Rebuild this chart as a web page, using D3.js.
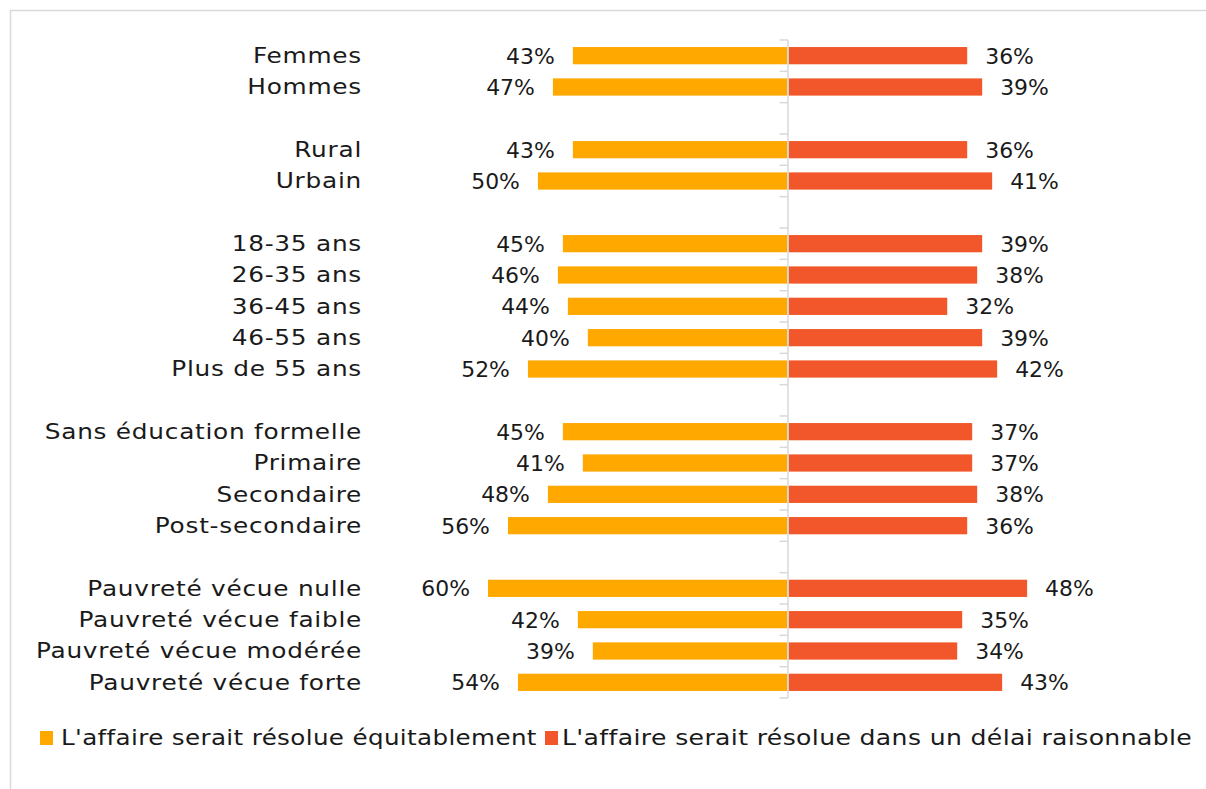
<!DOCTYPE html>
<html><head><meta charset="utf-8">
<script src="https://cdn.jsdelivr.net/npm/d3@7"></script>
<style>
html,body{margin:0;padding:0;background:#fff;}
svg{display:block;}
text{font-family:"DejaVu Sans",sans-serif;fill:#1a1a1a;}
</style></head>
<body>
<svg id="chart" width="1206" height="789"></svg>
<script>
// categories ("gapN" entries are blank spacer rows between groups)
const categories = ["Femmes","Hommes","gap1","Rural","Urbain","gap2",
  "18-35 ans","26-35 ans","36-45 ans","46-55 ans","Plus de 55 ans","gap3",
  "Sans éducation formelle","Primaire","Secondaire","Post-secondaire","gap4",
  "Pauvreté vécue nulle","Pauvreté vécue faible","Pauvreté vécue modérée","Pauvreté vécue forte"];
const equitable = [43,47,null,43,50,null,45,46,44,40,52,null,45,41,48,56,null,60,42,39,54];
const delai     = [36,39,null,36,41,null,39,38,32,39,42,null,37,37,38,36,null,48,35,34,43];
const seriesNames = ["L'affaire serait résolue équitablement","L'affaire serait résolue dans un délai raisonnable"];
const colors = ["#FFA800","#F2572B"];

const svg = d3.select("#chart");
// outer border
svg.append("rect").attr("x",10.5).attr("y",10.5).attr("width",1300).attr("height",900)
  .attr("fill","none").attr("stroke","#d9d9d9").attr("stroke-width",1.5);

const y = d3.scaleBand().domain(categories).range([40,698]).paddingInner(0.45).paddingOuter(0.225);
const x = d3.scaleLinear().domain([-60,60]).range([488,1087]);
const x0 = x(0);

const rows = categories.map((c,i)=>({c, i, a:equitable[i], b:delai[i]})).filter(d=>d.a!=null);

// left bars
svg.append("g").selectAll("rect").data(rows).join("rect")
  .attr("x",d=>x(-d.a)).attr("width",d=>x0-x(-d.a))
  .attr("y",d=>y(d.c)).attr("height",y.bandwidth()).attr("fill",colors[0]);
// right bars
svg.append("g").selectAll("rect").data(rows).join("rect")
  .attr("x",x0+1).attr("width",d=>x(d.b)-x0-1)
  .attr("y",d=>y(d.c)).attr("height",y.bandwidth()).attr("fill",colors[1]);

// center axis with ticks on category boundaries
const step = y.step();
const ax = svg.append("g").attr("stroke","#d9d9d9").attr("stroke-width",1.5);
ax.append("line").attr("x1",x0+0.5).attr("x2",x0+0.5).attr("y1",40).attr("y2",698);
d3.range(categories.length+1).forEach(k=>{
  const yy = 40 + k*step;
  ax.append("line").attr("x1",x0-8).attr("x2",x0+0.5).attr("y1",yy).attr("y2",yy);
});

const fs = 20.5;
function stretched(g, data, fx, fy, anchor, sx, ls, txt){
  g.selectAll("g").data(data).join("g")
    .attr("transform",d=>`translate(${fx(d)},${fy(d)}) scale(${typeof sx==="function"?sx(d):sx},1)`)
    .append("text").attr("dy","0.36em").attr("text-anchor",anchor)
    .attr("font-size",fs).style("letter-spacing",ls+"px").text(txt);
}
const cy = d=>y(d.c)+y.bandwidth()/2;
// category labels
stretched(svg.append("g"), rows, d=>362, cy, "end", 1.21, 0.6, d=>d.c);
// value labels
stretched(svg.append("g"), rows, d=>x(-d.a)-18, d=>cy(d)+0.5, "end", 1.07, 0, d=>d.a+"%");
stretched(svg.append("g"), rows, d=>x(d.b)+18, d=>cy(d)+0.5, "start", 1.07, 0, d=>d.b+"%");

// legend
const lg = svg.append("g");
const lx = [40,545];
const tx = [61,562];
seriesNames.forEach((n,i)=>{
  lg.append("rect").attr("x",lx[i]).attr("y",731).attr("width",13).attr("height",14).attr("fill",colors[i]);
});
stretched(lg, seriesNames.map((n,i)=>({n,i})), d=>tx[d.i], d=>738, "start", d=>d.i===0?1.2:1.225, 0.3, d=>d.n);
</script>
</body></html>
